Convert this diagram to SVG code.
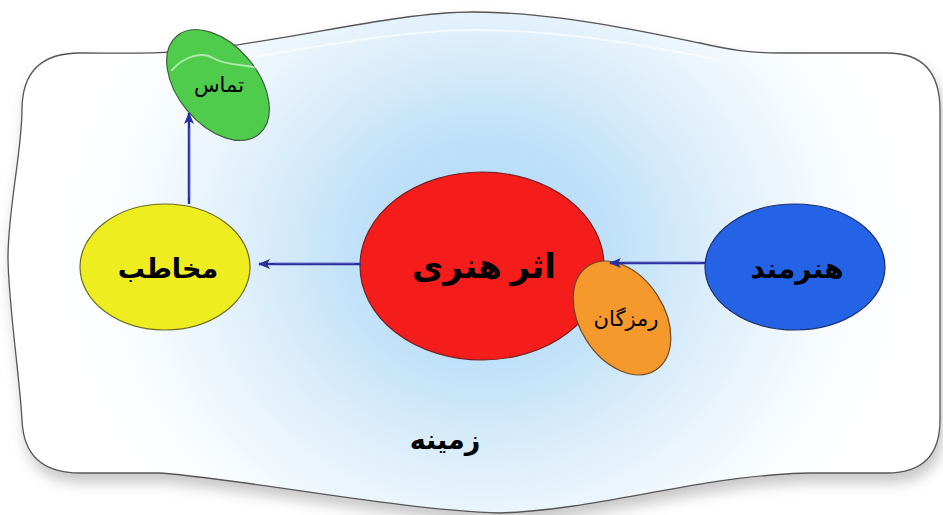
<svg xmlns="http://www.w3.org/2000/svg" width="943" height="515" viewBox="0 0 943 515">
  <defs>
    <radialGradient id="bgGrad" gradientUnits="userSpaceOnUse" cx="485" cy="250" r="430" gradientTransform="translate(485 250) scale(1 0.9) translate(-485 -250)">
      <stop offset="0" stop-color="#acd7f6"/>
      <stop offset="0.3" stop-color="#c0e1f8"/>
      <stop offset="0.6" stop-color="#e3f1fb"/>
      <stop offset="0.85" stop-color="#fafdff"/>
      <stop offset="1" stop-color="#ffffff"/>
    </radialGradient>
    <filter id="shadow" x="-10%" y="-10%" width="120%" height="130%">
      <feDropShadow dx="3" dy="9" stdDeviation="7" flood-color="#000" flood-opacity="0.22"/>
    </filter>
    <marker id="arrow" viewBox="0 0 12 10" refX="11" refY="5" markerWidth="12" markerHeight="10" markerUnits="userSpaceOnUse" orient="auto">
      <path d="M0,0 L12,5 L0,10 L3,5 Z" fill="#2a2f9e"/>
    </marker>
  </defs>
  <style>
    .bg { fill: url(#bgGrad); stroke: #555; stroke-width: 1.3; }
    .node { stroke-width: 1.2; }
    .lbl { font-family: "Liberation Serif", "DejaVu Sans", serif; fill: #000; text-anchor: middle; }
    .bold { font-weight: bold; }
    .conn { fill: none; stroke: #2a2f9e; stroke-width: 2.5; marker-end: url(#arrow); }
    .connHi { fill: none; stroke: #8a90d8; stroke-width: 0.8; stroke-opacity: 0.8; }
    .gloss { fill: none; stroke: #fff; stroke-opacity: 0.55; stroke-width: 2; stroke-linecap: round; }
  </style>

  <!-- wavy background panel -->
  <g id="context">
    <path class="bg" filter="url(#shadow)" d="M80,53 C130,53 160,54 200,50 C300,38 400,12 473,12 C560,12 660,35 700,43 C730,50 750,53 780,53 L887,53 Q940,53 940,110 L940,420 Q940,473 887,473 L810,473 C700,475 600,510 500,513 C400,510 250,480 160,473 L80,473 Q24,473 22,420 C20,380 8,300 8,257 C8,210 22,150 22,110 Q22,53 80,53 Z"/>
    <path d="M210,64 C300,50 400,30 473,30 C560,30 650,46 720,60" fill="none" stroke="#fff" stroke-opacity="0.6" stroke-width="2"/>
    <text class="lbl bold" x="445" y="449" font-size="27">زمینه</text>
  </g>

  <g id="contact">
    <ellipse class="node" cx="218" cy="85" rx="64" ry="40" transform="rotate(50 218 85)" fill="#50cc4c" stroke="#3d5e3a"/>
    <path class="gloss" d="M172,70 C185,55 203,52 213,58 C226,66 244,64 258,68"/>
    <text class="lbl" x="219" y="92" font-size="21">تماس</text>
  </g>

  <g id="audience">
    <ellipse class="node" cx="165" cy="267" rx="85" ry="63" fill="#eded1f" stroke="#6b6a20"/>
    <text class="lbl bold" x="168" y="278" font-size="27">مخاطب</text>
  </g>

  <g id="artwork">
    <ellipse class="node" cx="482" cy="266" rx="122" ry="94" fill="#f51c1c" stroke="#7a2020"/>
    <text class="lbl bold" x="484" y="278" font-size="34">اثر هنری</text>
  </g>

  <g id="code">
    <ellipse class="node" cx="622" cy="318" rx="62" ry="42" transform="rotate(57 622 318)" fill="#f5992c" stroke="#6d4a20"/>
    <text class="lbl" x="626" y="326" font-size="21">رمزگان</text>
  </g>

  <g id="artist">
    <ellipse class="node" cx="795" cy="267" rx="90" ry="63" fill="#2462e6" stroke="#1c2f6a"/>
    <text class="lbl bold" x="797" y="278" font-size="28">هنرمند</text>
  </g>

  <!-- connectors -->
  <g id="connectors">
    <line class="conn" x1="706" y1="263" x2="610" y2="263"/>
    <line class="connHi" x1="700" y1="262" x2="625" y2="262"/>
    <line class="conn" x1="361" y1="264" x2="259" y2="264"/>
    <line class="connHi" x1="355" y1="263" x2="275" y2="263"/>
    <line class="conn" x1="189" y1="204" x2="189" y2="113"/>
    <line class="connHi" x1="190" y1="198" x2="190" y2="128"/>
  </g>
</svg>
